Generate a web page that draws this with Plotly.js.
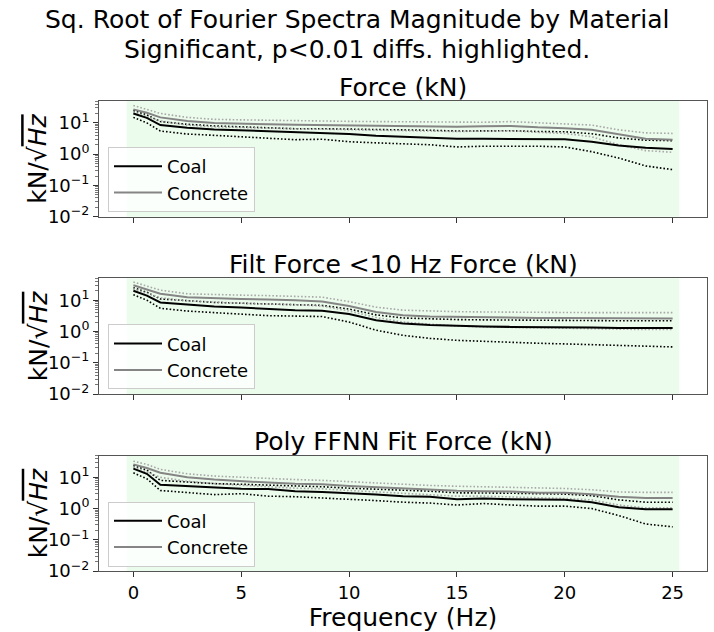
<!DOCTYPE html>
<html>
<head>
<meta charset="utf-8">
<script src="https://cdn.plot.ly/plotly-3.0.1.min.js"></script>
<style>html,body{margin:0;padding:0;background:#fff}</style>
</head>
<body>
<div id="chart" style="width:714px;height:632px"></div>
<script>
// Frequency bins (Hz)
const freq = [0, 0.625, 1.25, 2.5, 3.75, 5, 6.25, 7.5, 8.75, 10, 11.25, 12.5, 13.75, 15, 16.25, 17.5, 18.75, 20, 21.25, 22.5, 23.75, 25];

// Panel 1: Force (kN) — mean and spread bounds, kN/sqrt(Hz)
const forceCoalMean = [20, 14.5, 8.5, 7, 6.2, 5.8, 5.2, 4.8, 4.6, 4.4, 3.9, 3.6, 3.4, 3.1, 3.1, 3.1, 3.0, 3.0, 2.5, 1.9, 1.6, 1.45];
const forceCoalLow  = [15, 10, 5.5, 4.4, 4.0, 3.6, 3.2, 2.9, 3.0, 2.5, 2.3, 2.2, 2.0, 1.7, 1.8, 1.8, 1.8, 1.7, 1.2, 0.75, 0.42, 0.32];
const forceCoalHigh = [25, 18, 11, 9, 8, 7.5, 7, 6.5, 6.5, 6.4, 6.2, 6.0, 5.8, 5.5, 5.6, 5.6, 5.3, 5.2, 4.5, 3.3, 2.8, 2.7];
const forceConcMean = [27, 21, 15, 11.5, 10, 9.3, 9, 8.8, 8.6, 8.4, 8.2, 8.0, 7.8, 7.5, 7.8, 8.0, 7.2, 6.8, 6.0, 4.2, 3.1, 2.9];
const forceConcLow  = [21, 16, 11.5, 8.5, 7.5, 7.0, 6.8, 6.5, 6.3, 6.2, 6.0, 5.8, 5.6, 5.3, 5.5, 5.6, 5.0, 4.6, 3.6, 2.0, 1.3, 1.15];
const forceConcHigh = [36, 27, 20, 15, 13, 12.5, 12, 11.8, 11.5, 11.2, 11, 10.8, 10.5, 10.2, 10.5, 11, 10, 9.5, 8.5, 6, 4.8, 4.6];

// Panel 2: Filt Force <10 Hz Force (kN)
const filtCoalMean = [20, 14, 8.5, 7.2, 6.3, 5.8, 5.2, 4.8, 4.6, 3.6, 2.3, 1.8, 1.6, 1.5, 1.45, 1.4, 1.4, 1.35, 1.35, 1.3, 1.3, 1.3];
const filtCoalLow  = [15, 10, 5.5, 4.5, 4.0, 3.6, 3.2, 3.1, 3.0, 2.0, 1.1, 0.75, 0.6, 0.52, 0.48, 0.45, 0.42, 0.4, 0.38, 0.36, 0.34, 0.32];
const filtCoalHigh = [25, 18, 11, 9.5, 8.5, 8, 7.5, 7, 6.8, 5.2, 3.4, 2.7, 2.5, 2.4, 2.35, 2.3, 2.3, 2.3, 2.25, 2.2, 2.2, 2.2];
const filtConcMean = [30, 22, 16, 12.5, 11.5, 11, 10.5, 10, 9, 6.5, 4.2, 3.3, 3.0, 2.9, 2.8, 2.8, 2.7, 2.7, 2.7, 2.6, 2.6, 2.6];
const filtConcLow  = [23, 17, 12, 9.5, 8.5, 8, 7.5, 7.2, 6.5, 4.5, 2.8, 2.0, 1.7, 1.5, 1.4, 1.35, 1.3, 1.25, 1.2, 1.2, 1.15, 1.15];
const filtConcHigh = [38, 28, 21, 16, 15, 14.5, 14, 13.5, 12.5, 9, 6, 4.8, 4.5, 4.3, 4.2, 4.1, 4.1, 4.0, 4.0, 4.0, 4.0, 4.0];

// Panel 3: Poly FFNN Fit Force (kN)
const polyCoalMean = [19, 13, 5.8, 5.2, 4.6, 4.3, 4.2, 3.6, 3.4, 3.0, 2.8, 2.5, 2.4, 2.0, 2.1, 2.0, 1.9, 1.9, 1.6, 1.1, 0.95, 0.95];
const polyCoalLow  = [14, 9, 3.8, 3.3, 2.8, 3.0, 2.5, 2.4, 2.2, 2.0, 1.8, 1.6, 1.5, 1.3, 1.45, 1.3, 1.2, 1.2, 1.0, 0.6, 0.32, 0.26];
const polyCoalHigh = [24, 17, 8, 7, 6.3, 6.0, 5.7, 5.2, 5.0, 4.5, 4.2, 3.8, 3.6, 3.2, 3.2, 3.1, 3.0, 2.9, 2.6, 1.9, 1.6, 1.6];
const polyConcMean = [26, 20, 14, 10, 8.5, 7.5, 6.8, 6.2, 6.0, 5.3, 4.8, 4.3, 4.0, 3.7, 3.6, 3.5, 3.2, 3.2, 2.9, 2.4, 2.2, 2.2];
const polyConcLow  = [21, 15, 10, 7.5, 6.3, 5.5, 5.0, 4.5, 4.3, 3.8, 3.4, 3.0, 2.8, 2.5, 2.5, 2.4, 2.2, 2.1, 1.9, 1.3, 1.05, 1.05];
const polyConcHigh = [33, 26, 18, 13, 11, 10, 9, 8.5, 8, 7.2, 6.5, 5.8, 5.5, 5.2, 5.0, 4.8, 4.5, 4.4, 4.0, 3.4, 3.3, 3.3];

// Significant (p<0.01) frequency span per panel, Hz
const sigStart = [-0.3125, -0.3125, -0.3125];
const sigEnd   = [25.3125, 25.3125, 25.3125];

const figTitleLines = ['Sq. Root of Fourier Spectra Magnitude by Material', 'Significant, p&lt;0.01 diffs. highlighted.'];
const panelTitles = ['Force (kN)', 'Filt Force &lt;10 Hz Force (kN)', 'Poly FFNN Fit Force (kN)'];
const materials = ['Coal', 'Concrete'];
const yTickVals = [0.01, 0.1, 1, 10];
const yTickText = ['10<sup>−2</sup>', '10<sup>−1</sup>', '10<sup>0</sup>', '10<sup>1</sup>'];
const xTickVals = [0, 5, 10, 15, 20, 25];
const yLabel = 'kN/√<span style="text-decoration:overline"><i>Hz</i></span>';

const panels = [
  {coal: [forceCoalMean, forceCoalLow, forceCoalHigh], conc: [forceConcMean, forceConcLow, forceConcHigh]},
  {coal: [filtCoalMean, filtCoalLow, filtCoalHigh],   conc: [filtConcMean, filtConcLow, filtConcHigh]},
  {coal: [polyCoalMean, polyCoalLow, polyCoalHigh],   conc: [polyConcMean, polyConcLow, polyConcHigh]}
];

const FONT = 'DejaVu Sans, sans-serif';
const meanColor = {Coal: '#000000', Concrete: '#858585'};
const boundColor = {Coal: '#000000', Concrete: '#a8a8a8'};

// log-axis minor ticks (2..9 in each decade)
const minorVals = [];
for (let e = -2; e <= 1; e++) for (let m = 2; m <= 9; m++) minorVals.push(m * Math.pow(10, e));

const traces = [];
panels.forEach((p, i) => {
  const sfx = i === 0 ? '' : String(i + 1);
  const legendId = i === 0 ? 'legend' : 'legend' + (i + 1);
  const groups = {Coal: p.coal, Concrete: p.conc};
  // spread bounds (dotted)
  materials.forEach(mat => {
    [1, 2].forEach(k => {
      traces.push({
        x: freq, y: groups[mat][k], type: 'scatter', mode: 'lines',
        xaxis: 'x' + sfx, yaxis: 'y' + sfx, showlegend: false, hoverinfo: 'skip',
        line: {color: boundColor[mat], width: 1.6, dash: '1.6px,2px'}
      });
    });
  });
  // means (solid)
  materials.forEach(mat => {
    traces.push({
      x: freq, y: groups[mat][0], type: 'scatter', mode: 'lines', name: mat,
      xaxis: 'x' + sfx, yaxis: 'y' + sfx, legend: legendId,
      line: {color: meanColor[mat], width: 2}
    });
  });
});

// panel frames in pixels (top, bottom) within a 632px tall page
const H = 632, W = 714;
const frames = [[101, 216.7], [278.3, 394], [455.5, 571]];
const xDomain = [99 / W, 707 / W];
const xMid = (xDomain[0] + xDomain[1]) / 2;

const layout = {
  width: W, height: H,
  margin: {l: 0, r: 0, t: 0, b: 0},
  paper_bgcolor: '#ffffff', plot_bgcolor: '#ffffff',
  font: {family: FONT, color: '#000', size: 18},
  shapes: [], annotations: []
};

frames.forEach((fr, i) => {
  const sfx = i === 0 ? '' : String(i + 1);
  const dom = [1 - fr[1] / H, 1 - fr[0] / H];
  const last = i === frames.length - 1;
  layout['xaxis' + sfx] = {
    domain: xDomain, anchor: 'y' + sfx, range: [-1.594, 26.594],
    tickmode: 'array', tickvals: xTickVals, showticklabels: last,
    ticks: 'outside', ticklen: 5, tickwidth: 1, tickcolor: '#333',
    showline: true, mirror: true, linecolor: '#555', linewidth: 1,
    showgrid: false, zeroline: false,
    tickfont: {size: 18, family: FONT},
    title: last ? {text: 'Frequency (Hz)', font: {size: 25, family: FONT}, standoff: 1} : {text: ''}
  };
  if (i > 0) layout['xaxis' + sfx].matches = 'x';
  layout['yaxis' + sfx] = {
    domain: dom, anchor: 'x' + sfx, type: 'log', range: [-2, 1.7],
    tickmode: 'array', tickvals: yTickVals, ticktext: yTickText,
    ticks: 'outside', ticklen: 5, tickwidth: 1, tickcolor: '#333',
    minor: {tickmode: 'array', tickvals: minorVals, ticks: 'outside', ticklen: 3, tickwidth: 0.8, tickcolor: '#555', showgrid: false},
    showline: true, mirror: true, linecolor: '#555', linewidth: 1,
    showgrid: false, zeroline: false,
    tickfont: {size: 18, family: FONT}
  };
  // highlighted significant band
  layout.shapes.push({
    type: 'rect', xref: 'x' + sfx, yref: 'y' + sfx + ' domain',
    x0: sigStart[i], x1: sigEnd[i], y0: 0, y1: 1,
    fillcolor: 'rgba(144,238,144,0.17)', line: {width: 0}, layer: 'below'
  });
  // panel title
  layout.annotations.push({
    text: panelTitles[i], xref: 'paper', yref: 'paper',
    x: xMid, y: 1 - (fr[0] - 14) / H, xanchor: 'center', yanchor: 'middle',
    showarrow: false, font: {size: 25, family: FONT}
  });
  // y-axis label
  layout.annotations.push({
    text: yLabel, xref: 'paper', yref: 'paper', textangle: -90,
    x: 38 / W, y: 1 - ((fr[0] + fr[1]) / 2) / H, xanchor: 'center', yanchor: 'middle',
    showarrow: false, font: {size: 25, family: FONT}
  });
  // legend per panel
  const legendKey = i === 0 ? 'legend' : 'legend' + (i + 1);
  layout[legendKey] = {
    x: 108 / W, y: 1 - (fr[0] + 46) / H, xanchor: 'left', yanchor: 'top',
    bgcolor: 'rgba(255,255,255,0.8)', bordercolor: '#cccccc', borderwidth: 1,
    font: {size: 18, family: FONT}, tracegroupgap: 0, itemwidth: 48
  };
});

// figure title, two lines
[20, 50].forEach((yc, k) => {
  layout.annotations.push({
    text: figTitleLines[k], xref: 'paper', yref: 'paper',
    x: 0.5, y: 1 - yc / H, xanchor: 'center', yanchor: 'middle', showarrow: false,
    borderpad: 0,
    font: {size: 25, family: FONT}
  });
});

Plotly.newPlot('chart', traces, layout, {displayModeBar: false, staticPlot: true});
</script>
</body>
</html>
